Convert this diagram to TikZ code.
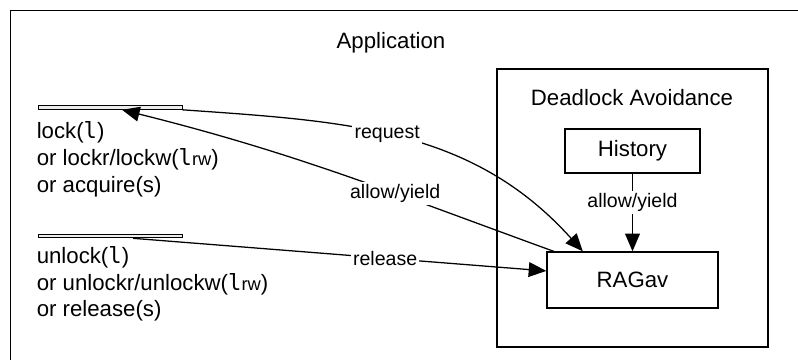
\documentclass[tikz,border=0pt]{standalone}
\usepackage{fontspec}
\setmainfont{Liberation Sans}
\newfontfamily\monofont{DejaVu Sans Mono}
\usetikzlibrary{arrows.meta,calc}

\newcommand{\lvar}{{\monofont l}}
\newcommand{\lrw}{{\monofont l}{\fontsize{13}{13}\selectfont rw}}

\tikzset{
  box/.style={draw, line width=1pt, inner sep=0pt},
  bar/.style={draw, line width=0.7pt, fill=gray!15, minimum width=144*0.025cm, minimum height=2.6pt, inner sep=0pt},
  lbl/.style={fill=white, inner sep=1.5pt, font=\fontsize{13.9}{16}\selectfont},
  arr/.style={-{Triangle[length=12.5pt,width=10.5pt]}, line width=0.9pt},
}

\begin{document}
\begin{tikzpicture}[x=0.025cm, y=0.025cm, font=\fontsize{15.8}{19.1}\selectfont]
        \useasboundingbox (0,0) rectangle (798,360);
        \def\px{0.025cm}

        % application frame, cut off by the page
        \draw[line width=1.3pt] (10.5,0) -- (10.5,349.5) -- (798,349.5);
        \node at (391,317) {Application};

        % deadlock avoidance module
        \node[box, minimum width=271*\px, minimum height=278*\px] (avoid) at (632.5,152) {};
        \node at (632,262) {Deadlock Avoidance};
        \node[box, minimum width=135*\px, minimum height=44*\px] (history) at (632.5,209) {History};
        \node[box, minimum width=171*\px, minimum height=56*\px] (ragav) at (632.5,80) {RAGav};

        % call sites
        \node[bar] (lockbar) at (110,252.5) {};
        \node[anchor=north west, align=left, inner sep=0pt] (locktext) at (36.5,238.5)
            {lock(\lvar)\\or lockr/lockw(\lrw)\\or acquire(s)};
        \node[bar] (unlockbar) at (110,124) {};
        \node[anchor=north west, align=left, inner sep=0pt] (unlocktext) at (36.5,114)
            {unlock(\lvar)\\or unlockr/unlockw(\lrw)\\or release(s)};

        \draw[arr] (lockbar.south east) to[out=-4, in=132] node[lbl, pos=0.46] {request} (ragav.150);
        \draw[arr] (ragav.160) to[out=160, in=-14] node[lbl, pos=0.36] {allow/yield} ($(lockbar.south)+(12,0)$);
        \draw[arr] ($(unlockbar.south)+(23,0)$) -- node[lbl, pos=0.61] {release} (ragav.174);
        \draw[arr] (history) -- node[lbl, pos=0.37] {allow/yield} (ragav);

    \end{tikzpicture}
\end{document}
